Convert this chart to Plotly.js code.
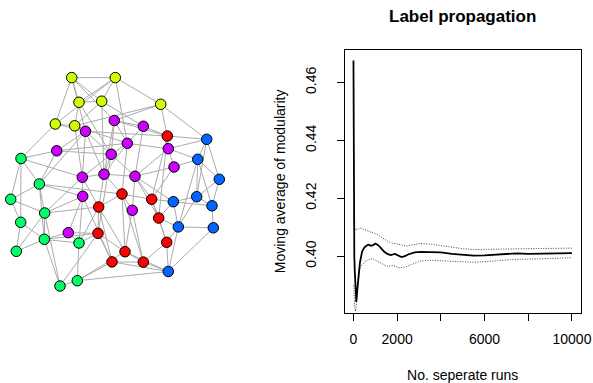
<!DOCTYPE html>
<html>
<head>
<meta charset="utf-8">
<script src="https://cdn.plot.ly/plotly-3.0.1.min.js"></script>
<style>html,body{margin:0;padding:0;background:#fff;}#chart{width:593px;height:383px;}</style>
</head>
<body>
<div id="chart"></div>
<script>
// ---- Network (layout positions) ----
const groupColors = ["#FF0000", "#CCFF00", "#00FF66", "#0066FF", "#CC00FF"];
const nodeX = [71.7,115.3,79,101.7,160.7,55.3,74.7,
  114.3,143.3,85.5,127.3,56.7,168.3,111.2,174,104,82.3,135,82.7,132.3,68.3,
  167.3,122,151.7,98.7,158.7,98,166.7,125,112,143.3,
  206.7,197.7,219.3,196.7,173.3,212,178.3,213.3,168.3,
  21,39.3,10.7,44.7,20.7,44.3,79,16.3,77.3,60];
const nodeY = [77.6,77.6,102.3,101.2,104.3,124,125.8,
  120.5,126.3,131.3,143.3,150.8,148.7,154.3,167,174.2,177.2,176.3,196.3,210.3,232.7,
  136,194,199.3,207,218,233.3,242.3,251.7,261.9,262.1,
  139.3,159.3,179.3,196.7,201.7,205.8,226.9,227.8,271.5,
  158.5,184,199.3,213,222.3,239.3,243,251.3,280.7,286];
const nodeGroup = [1,1,1,1,1,1,1,
  4,4,4,4,4,4,4,4,4,4,4,4,4,4,
  0,0,0,0,0,0,0,0,0,0,
  3,3,3,3,3,3,3,3,3,
  2,2,2,2,2,2,2,2,2,2];
const edges = [
  [0,1],[0,2],[0,5],[0,3],[1,2],[1,3],[1,4],[1,5],[2,3],[2,6],[3,6],[5,6],
  [0,7],[0,9],[1,10],[4,7],[4,21],[4,31],[4,6],[5,40],[5,9],[2,13],[3,8],[6,16],[3,15],[6,10],
  [7,8],[7,10],[7,13],[8,10],[8,17],[9,13],[9,16],[9,11],[10,13],[10,15],[10,12],[11,13],[11,10],[12,14],[13,15],[13,17],[15,17],[15,16],[16,18],[18,20],[17,19],[14,17],[12,17],[9,15],[7,15],[16,13],
  [9,21],[7,21],[12,31],[12,32],[14,32],[14,23],[12,21],[11,40],[11,41],[16,40],[18,43],[18,41],[20,45],[20,46],[20,26],[15,24],[15,22],[17,23],[17,25],[19,22],[19,28],[19,30],[13,26],[16,24],[18,29],[10,22],[8,21],[17,35],
  [21,23],[22,24],[22,23],[22,28],[23,25],[24,26],[24,29],[25,27],[26,29],[26,28],[27,30],[28,30],[29,30],[22,30],[23,27],[24,28],[21,25],
  [21,31],[23,35],[25,35],[27,39],[28,39],[29,39],[30,39],[25,37],[26,46],[29,48],[28,48],[24,46],[26,45],[24,43],[22,41],[27,37],
  [31,32],[31,33],[31,34],[32,33],[32,34],[32,36],[33,36],[33,34],[34,35],[34,36],[34,37],[35,37],[36,38],[37,38],[37,39],[38,39],[35,36],[32,37],
  [40,41],[40,42],[40,44],[41,42],[41,43],[42,44],[42,43],[43,45],[44,45],[44,47],[45,47],[45,46],[45,49],[46,48],[48,49],[43,49],[41,45],[47,43],
  [48,39],[49,26],[43,16],[41,9],[46,18]
];

// ---- Moving average of modularity ----
const runs = [1,5,10,20,40,60,80,100,130,160,200,250,300,400,500,600,700,800,900,1000,1100,1200,1300,1400,1550,1700,1900,2050,2200,2350,2500,2800,3100,3500,4000,4500,5000,5500,6000,6500,7000,7500,8000,8500,9000,9500,10000];
const modAvg = [0.4676,0.4300,0.4200,0.4080,0.4000,0.3950,0.3900,0.3855,0.3842,0.3870,0.3910,0.3945,0.3980,0.4017,0.4030,0.4037,0.4040,0.4036,0.4038,0.4044,0.4040,0.4033,0.4023,0.4016,0.4008,0.4004,0.4008,0.4003,0.3997,0.4000,0.4006,0.4013,0.4015,0.4014,0.4013,0.4008,0.4006,0.4002,0.4003,0.4006,0.4009,0.4010,0.4008,0.4009,0.4009,0.4010,0.4011];
const upperRuns = [10,20,50,100,200,300,500,700,900,1100,1300,1500,1700,1900,2200,2450,2750,3050,3500,4000,4500,5000,5500,6000,7000,8000,9000,10000];
const upperVals = [0.4150,0.4090,0.4085,0.4095,0.4092,0.4098,0.4092,0.4088,0.4082,0.4075,0.4064,0.4055,0.4046,0.4044,0.4040,0.4035,0.4040,0.4044,0.4042,0.4036,0.4030,0.4026,0.4023,0.4024,0.4025,0.4026,0.4027,0.4028];
const lowerRuns = [10,30,60,100,130,180,240,400,620,850,1080,1300,1540,1840,2070,2300,2750,3050,3500,4500,5500,6500,7300,8500,9600,10000];
const lowerVals = [0.3900,0.3850,0.3820,0.3810,0.3830,0.3900,0.3954,0.3971,0.3986,0.3992,0.3983,0.3975,0.3965,0.3968,0.3960,0.3961,0.3975,0.3983,0.3986,0.3983,0.3979,0.3984,0.3989,0.3991,0.3994,0.3995];
const xTickVals = [0,2000,4000,6000,8000,10000];
const xTickText = ["0","2000","","6000","","10000"];
const yTickVals = [0.40,0.42,0.44,0.46];
const yTickText = ["0.40","0.42","0.44","0.46"];

// ---- build traces ----
const ex = [], ey = [];
edges.forEach(([a,b]) => { ex.push(nodeX[a], nodeX[b], null); ey.push(nodeY[a], nodeY[b], null); });

const font = "Liberation Sans, Arial, Helvetica, sans-serif";
const traces = [
  {x: ex, y: ey, mode: "lines", type: "scatter", xaxis: "x", yaxis: "y",
   line: {color: "#ababab", width: 1}, hoverinfo: "skip", showlegend: false},
  {x: nodeX, y: nodeY, mode: "markers", type: "scatter", xaxis: "x", yaxis: "y",
   marker: {size: 10.5, color: nodeGroup.map(g => groupColors[g]), line: {color: "#000", width: 1}},
   showlegend: false},
  {x: upperRuns, y: upperVals, mode: "lines", type: "scatter", xaxis: "x2", yaxis: "y2",
   line: {color: "#444", width: 1, dash: "1px,1.5px"}, showlegend: false},
  {x: lowerRuns, y: lowerVals, mode: "lines", type: "scatter", xaxis: "x2", yaxis: "y2",
   line: {color: "#444", width: 1, dash: "1px,1.5px"}, showlegend: false},
  {x: runs, y: modAvg, mode: "lines", type: "scatter", xaxis: "x2", yaxis: "y2",
   line: {color: "#000", width: 1.8}, showlegend: false}
];

const W = 593, H = 383;
const layout = {
  width: W, height: H,
  margin: {l: 0, r: 0, t: 0, b: 0, pad: 0},
  paper_bgcolor: "#fff", plot_bgcolor: "rgba(0,0,0,0)",
  font: {family: font, size: 14, color: "#000"},
  showlegend: false,
  title: {text: "<b>Label propagation</b>", x: 462.7 / W, xanchor: "center", y: 1 - 16 / H, yanchor: "middle",
          font: {family: font, size: 17, color: "#000"}},
  xaxis: {domain: [0, 240 / W], range: [0, 240], visible: false, fixedrange: true},
  yaxis: {domain: [0, 1], range: [H, 0], visible: false, fixedrange: true},
  xaxis2: {domain: [344.7 / W, 580.7 / W], range: [-400, 10400], anchor: "y2",
           showline: true, mirror: true, linecolor: "#000", linewidth: 1,
           ticks: "outside", ticklen: 7, tickwidth: 1, tickcolor: "#000",
           tickvals: xTickVals, ticktext: xTickText, tickfont: {size: 14},
           ticklabelstandoff: 6,
           showgrid: false, zeroline: false, automargin: false,
           title: {text: "No. seperate runs", font: {size: 14}, standoff: 24}},
  yaxis2: {domain: [(H - 312.7) / H, (H - 50) / H], range: [0.3805, 0.4712], anchor: "x2",
           showline: true, mirror: true, linecolor: "#000", linewidth: 1,
           ticks: "outside", ticklen: 7, tickwidth: 1, tickcolor: "#000",
           tickvals: yTickVals, ticktext: yTickText, tickangle: -90, tickfont: {size: 14},
           ticklabelstandoff: 15,
           showgrid: false, zeroline: false, automargin: false,
           title: {text: "Moving average of modularity", font: {size: 14}, standoff: 14}}
};

Plotly.newPlot("chart", traces, layout, {displayModeBar: false, staticPlot: true});
</script>
</body>
</html>
